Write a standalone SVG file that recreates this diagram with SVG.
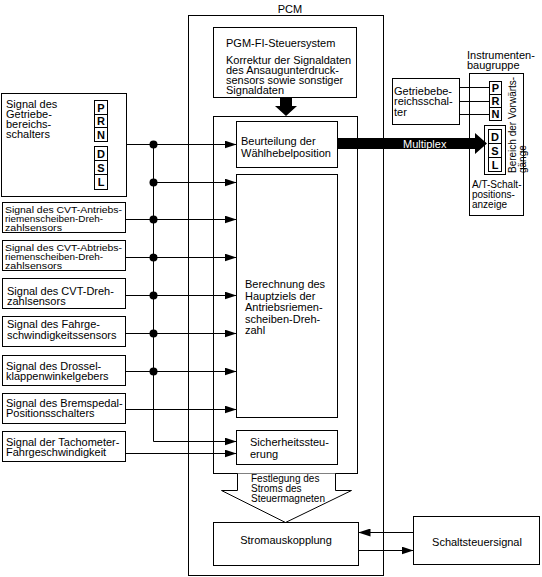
<svg xmlns="http://www.w3.org/2000/svg" width="542" height="577" viewBox="0 0 542 577">
<style>
.b{fill:#fff;stroke:#000;stroke-width:1}
.n{fill:none;stroke:#000;stroke-width:1}
text{font-family:"Liberation Sans",Arial,sans-serif;font-size:11px;fill:#000}
.k{font-weight:bold;text-anchor:middle}
.m{text-anchor:middle}
.s{font-size:10px}
.t{font-size:9px}
.w{fill:#fff}
</style>
<defs>
<marker id="ah" viewBox="0 0 12 8" refX="12" refY="4" markerWidth="12" markerHeight="8" markerUnits="userSpaceOnUse" orient="auto"><path d="M0,0 L12,4 L0,8 z" fill="#000"/></marker>
</defs>
<rect width="542" height="577" fill="#fff"/>

<g id="pcm">
<rect class="b" x="188.5" y="15.5" width="195" height="560"/>
<text class="m" x="290" y="13">PCM</text>
</g>

<g id="pgmfi">
<rect class="b" x="213.5" y="27.5" width="143" height="70"/>
<text x="226" y="47">PGM-FI-Steuersystem</text>
<g transform="translate(226,0) scale(1.1,1)">
<text class="s" x="0" y="64">Korrektur der Signaldaten</text>
<text class="s" x="0" y="74">des Ansaugunterdruck-</text>
<text class="s" x="0" y="84">sensors sowie sonstiger</text>
<text class="s" x="0" y="94">Signaldaten</text>
</g>
</g>

<g id="container">
<rect class="b" x="213.5" y="116.5" width="144" height="357"/>
</g>

<g id="beurteilung">
<rect class="b" x="236.5" y="121.5" width="101" height="46"/>
<text x="241" y="145">Beurteilung der</text>
<text x="241" y="156.5">Wählhebelposition</text>
</g>

<g id="berechnung">
<rect class="b" x="236.5" y="174.5" width="101" height="243"/>
<text x="245" y="288">Berechnung des</text>
<text x="245" y="299.5">Hauptziels der</text>
<text x="245" y="311">Antriebsriemen-</text>
<text x="245" y="322.5">scheiben-Dreh-</text>
<text x="245" y="334">zahl</text>
</g>

<g id="sicherheit">
<rect class="b" x="236.5" y="430.5" width="101" height="34"/>
<text x="250" y="446">Sicherheitssteu-</text>
<text x="250" y="457.5">erung</text>
</g>

<g id="festlegung">
<polyline class="b" points="237.5,473.5 237.5,490.5 221.5,490.5 285.5,522.5 351.5,490.5 335.5,490.5 335.5,473.5"/>
<text class="s" x="251" y="482">Festlegung des</text>
<text class="s" x="251" y="492">Stroms des</text>
<text class="s" x="251" y="502">Steuermagneten</text>
</g>

<g id="stromauskopplung">
<rect class="b" x="213.5" y="522.5" width="145" height="43"/>
<text class="m" x="286" y="544">Stromauskopplung</text>
</g>

<g id="schaltsteuersignal">
<rect class="b" x="413.5" y="516.5" width="126" height="48"/>
<text class="m" x="477" y="546">Schaltsteuersignal</text>
</g>

<g id="instrumentenbaugruppe">
<g transform="translate(467,0) scale(1.1,1)">
<text class="s" x="0" y="59.5">Instrumenten-</text>
<text class="s" x="0" y="69.5">baugruppe</text>
</g>
<rect class="b" x="469.5" y="73.5" width="54" height="142"/>
<rect class="b" x="489.5" y="81.5" width="12" height="13"/>
<rect class="b" x="489.5" y="94.5" width="12" height="13"/>
<rect class="b" x="489.5" y="107.5" width="12" height="13"/>
<text class="k" x="495.5" y="92">P</text>
<text class="k" x="495.5" y="105">R</text>
<text class="k" x="495.5" y="118">N</text>
<rect class="b" x="484.5" y="125.5" width="21" height="49"/>
<rect class="b" x="488.5" y="129.5" width="13" height="14"/>
<rect class="b" x="488.5" y="143.5" width="13" height="14"/>
<rect class="b" x="488.5" y="157.5" width="13" height="14"/>
<text class="k" x="495" y="141">D</text>
<text class="k" x="495" y="155">S</text>
<text class="k" x="495" y="169">L</text>
<text class="s" transform="translate(515.5,173) rotate(-90)">Bereich der Vorwärts-</text>
<text class="s" transform="translate(525.5,173) rotate(-90)">gänge</text>
<text class="s" x="472" y="188">A/T-Schalt-</text>
<text class="s" x="472" y="198">positions-</text>
<text class="s" x="472" y="208">anzeige</text>
</g>

<g id="getriebebereichsschalter-instr">
<rect class="b" x="392.5" y="78.5" width="67" height="46"/>
<g transform="translate(394,0) scale(1.1,1)">
<text class="s" x="0" y="95">Getriebebe-</text>
<text class="s" x="0" y="105.5">reichsschal-</text>
<text class="s" x="0" y="116">ter</text>
</g>
</g>

<g id="sig-getriebe">
<rect class="b" x="1.5" y="93.5" width="125" height="103"/>
<g transform="translate(6,0) scale(1.1,1)">
<text class="s" x="0" y="108">Signal des</text>
<text class="s" x="0" y="118">Getriebe-</text>
<text class="s" x="0" y="128">bereichs-</text>
<text class="s" x="0" y="138">schalters</text>
</g>
<rect class="b" x="94.5" y="100.5" width="13" height="14"/>
<rect class="b" x="94.5" y="114.5" width="13" height="13"/>
<rect class="b" x="94.5" y="127.5" width="13" height="14"/>
<text class="k" x="101" y="111.5">P</text>
<text class="k" x="101" y="125">R</text>
<text class="k" x="101" y="138.5">N</text>
<rect class="b" x="94.5" y="146.5" width="13" height="14"/>
<rect class="b" x="94.5" y="160.5" width="13" height="14"/>
<rect class="b" x="94.5" y="174.5" width="13" height="15"/>
<text class="k" x="101" y="157.5">D</text>
<text class="k" x="101" y="171.5">S</text>
<text class="k" x="101" y="186">L</text>
</g>

<g id="sig-cvt-antrieb">
<rect class="b" x="2.5" y="202.5" width="123" height="30"/>
<text class="t" x="5" y="212.5" textLength="117" lengthAdjust="spacingAndGlyphs">Signal des CVT-Antriebs-</text>
<text class="t" x="5" y="221.5" textLength="98" lengthAdjust="spacingAndGlyphs">riemenscheiben-Dreh-</text>
<text class="t" x="5" y="230.5" textLength="57" lengthAdjust="spacingAndGlyphs">zahlsensors</text>
</g>

<g id="sig-cvt-abtrieb">
<rect class="b" x="2.5" y="240.5" width="123" height="30"/>
<text class="t" x="5" y="250.5" textLength="117" lengthAdjust="spacingAndGlyphs">Signal des CVT-Abtriebs-</text>
<text class="t" x="5" y="259.5" textLength="98" lengthAdjust="spacingAndGlyphs">riemenscheiben-Dreh-</text>
<text class="t" x="5" y="268.5" textLength="57" lengthAdjust="spacingAndGlyphs">zahlsensors</text>
</g>

<g id="sig-cvt-dreh">
<rect class="b" x="2.5" y="278.5" width="123" height="30"/>
<g transform="translate(7,0) scale(1.1,1)">
<text class="s" x="0" y="295.5">Signal des CVT-Dreh-</text>
<text class="s" x="0" y="305.5">zahlsensors</text>
</g>
</g>

<g id="sig-fahrgeschw">
<rect class="b" x="2.5" y="316.5" width="123" height="30"/>
<text x="7" y="327.5">Signal des Fahrge-</text>
<text x="7" y="338.5">schwindigkeitssensors</text>
</g>

<g id="sig-drossel">
<rect class="b" x="2.5" y="355.5" width="123" height="30"/>
<g transform="translate(6,0) scale(1.1,1)">
<text class="s" x="0" y="370">Signal des Drossel-</text>
<text class="s" x="0" y="380">klappenwinkelgebers</text>
</g>
</g>

<g id="sig-bremspedal">
<rect class="b" x="2.5" y="393.5" width="123" height="30"/>
<g transform="translate(6,0) scale(1.1,1)">
<text class="s" x="0" y="407.5">Signal des Bremspedal-</text>
<text class="s" x="0" y="417.5">Positionsschalters</text>
</g>
</g>

<g id="sig-tacho">
<rect class="b" x="2.5" y="431.5" width="123" height="30"/>
<g transform="translate(6,0) scale(1.1,1)">
<text class="s" x="0" y="446">Signal der Tachometer-</text>
<text class="s" x="0" y="456">Fahrgeschwindigkeit</text>
</g>
</g>

<g id="connectors">
<path class="n" d="M126.5,144.5 H236.5" marker-end="url(#ah)"/>
<path class="n" d="M153.5,182.5 H236.5" marker-end="url(#ah)"/>
<path class="n" d="M125.5,219.5 H236.5" marker-end="url(#ah)"/>
<path class="n" d="M125.5,257.5 H236.5" marker-end="url(#ah)"/>
<path class="n" d="M125.5,295.5 H236.5" marker-end="url(#ah)"/>
<path class="n" d="M125.5,333.5 H236.5" marker-end="url(#ah)"/>
<path class="n" d="M125.5,371.5 H236.5" marker-end="url(#ah)"/>
<path class="n" d="M125.5,409.5 H236.5" marker-end="url(#ah)"/>
<path class="n" d="M153.5,144.5 V441.5 H236.5" marker-end="url(#ah)"/>
<path class="n" d="M125.5,453.5 H236.5" marker-end="url(#ah)"/>
<g fill="#000">
<circle cx="153.5" cy="144.5" r="4"/>
<circle cx="153.5" cy="182.5" r="4"/>
<circle cx="153.5" cy="219.5" r="4"/>
<circle cx="153.5" cy="257.5" r="4"/>
<circle cx="153.5" cy="295.5" r="4"/>
<circle cx="153.5" cy="333.5" r="4"/>
<circle cx="153.5" cy="371.5" r="4"/>
</g>
<path d="M280,97 h12 v9 h5 l-11,10 l-11,-10 h5 z" fill="#000"/>
<path d="M337,138 H475 V133 L487,143.5 L475,154 V149 H337 z" fill="#000"/>
<text class="w" x="403" y="147.5">Multiplex</text>
<path class="n" d="M459.5,87.5 H489.5 M459.5,101.5 H489.5 M459.5,114.5 H489.5"/>
<path class="n" d="M413.5,532.5 H358.5" marker-end="url(#ah)"/>
<path class="n" d="M358.5,550.5 H413.5" marker-end="url(#ah)"/>
</g>
</svg>
